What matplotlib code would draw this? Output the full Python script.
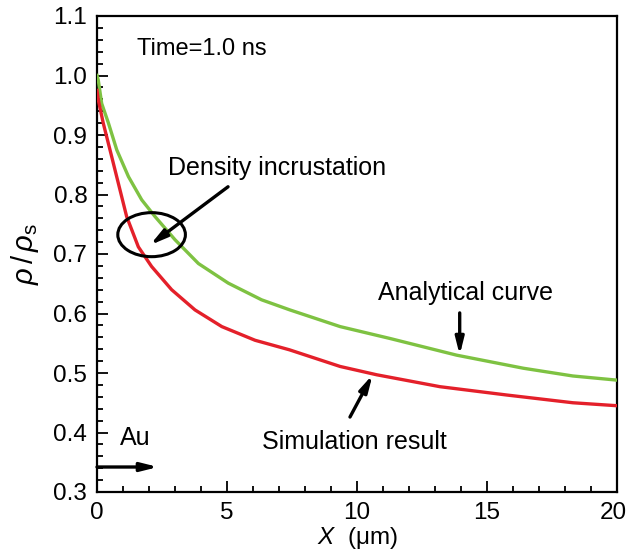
import matplotlib
matplotlib.use("Agg")
import matplotlib.pyplot as plt
from matplotlib.patches import Ellipse
from matplotlib.ticker import MultipleLocator
from matplotlib.transforms import ScaledTranslation

plt.rcParams['font.family'] = ['Liberation Sans', 'DejaVu Sans']
plt.rcParams['mathtext.fontset'] = 'custom'
plt.rcParams['mathtext.rm'] = 'Liberation Sans'
plt.rcParams['mathtext.it'] = 'Liberation Sans:italic'

# Analytical density profile
x_analytical = [0, 0.05, 0.18, 0.44, 0.76, 1.21, 1.72, 2.23, 3.0, 3.9, 5.05,
                6.33, 7.42, 9.35, 11.27, 13.83, 16.4, 18.3, 20]
rho_analytical = [1.0, 0.992, 0.953, 0.920, 0.875, 0.830, 0.791, 0.763, 0.724,
                  0.684, 0.651, 0.623, 0.606, 0.578, 0.558, 0.530, 0.508,
                  0.495, 0.488]

# Simulated density profile
x_simulation = [0, 0.05, 0.24, 0.5, 0.82, 1.14, 1.59, 2.10, 2.87, 3.77, 4.80,
                6.08, 7.4, 9.35, 10.76, 13.19, 15.76, 18.3, 20]
rho_simulation = [0.975, 0.959, 0.920, 0.875, 0.819, 0.763, 0.712, 0.679,
                  0.640, 0.606, 0.578, 0.555, 0.539, 0.511, 0.497, 0.477,
                  0.463, 0.450, 0.445]

x_ticks = [0, 5, 10, 15, 20]
y_ticks = [0.3, 0.4, 0.5, 0.6, 0.7, 0.8, 0.9, 1.0, 1.1]

fig = plt.figure(figsize=(6.28, 5.54), dpi=100)
ax = fig.add_axes([97 / 628, 62 / 554, 520 / 628, 476 / 554])

ax.plot(x_analytical, rho_analytical, color='#7ec242', lw=2.4, zorder=3,
        solid_joinstyle='round')
ax.plot(x_simulation, rho_simulation, color='#e4202a', lw=2.4, zorder=3,
        solid_joinstyle='round')

ax.set_xlim(0, 20)
ax.set_ylim(0.3, 1.1)
ax.set_xticks(x_ticks)
ax.set_yticks(y_ticks)
ax.set_yticklabels([f'{v:.1f}' for v in y_ticks])
ax.xaxis.set_minor_locator(MultipleLocator(1))
ax.yaxis.set_minor_locator(MultipleLocator(0.02))
ax.tick_params(which='both', direction='in', top=False, right=False,
               labelsize=17.5, width=1.3, color='black')
ax.tick_params(axis='y', which='major', length=8, pad=7)
ax.tick_params(axis='x', which='major', length=8, pad=7)
ax.tick_params(which='minor', length=4.5)
for s in ax.spines.values():
    s.set_linewidth(1.6)

# keep the last x tick label inside the canvas
last = ax.get_xticklabels()[-1]
last.set_transform(last.get_transform() +
                   ScaledTranslation(-4 / 100, 0, fig.dpi_scale_trans))

ax.set_xlabel(r'$X$  ($\mathrm{\mu}$m)', fontsize=17.5, labelpad=1)
ax.set_ylabel(r'$\rho\,/\,\rho_{\mathrm{s}}$', fontsize=21, labelpad=9)

ax.text(1.54, 1.045, 'Time=1.0 ns', fontsize=17, va='center', ha='left')
ax.text(2.73, 0.845, 'Density incrustation', fontsize=18, va='center', ha='left')
ax.text(10.8, 0.634, 'Analytical curve', fontsize=18, va='center', ha='left')
ax.text(6.35, 0.384, 'Simulation result', fontsize=18, va='center', ha='left')
ax.text(0.88, 0.391, 'Au', fontsize=18, va='center', ha='left')

arrow = dict(arrowstyle='-|>,head_length=1.0,head_width=0.25', lw=2.4,
             color='black', shrinkA=0, shrinkB=0)
ax.annotate('', xy=(2.04, 0.715), xytext=(5.04, 0.813), arrowprops=arrow)
ax.annotate('', xy=(13.95, 0.530), xytext=(13.95, 0.601), arrowprops=arrow)
ax.annotate('', xy=(10.6, 0.497), xytext=(9.73, 0.426), arrowprops=arrow)
ax.annotate('', xy=(2.35, 0.342), xytext=(0.0, 0.342), arrowprops=arrow)

ax.add_patch(Ellipse((2.10, 0.7325), 2.6, 0.074, fill=False, lw=2.2,
                     edgecolor='black', zorder=4))

fig.savefig('out.png', dpi=100)
